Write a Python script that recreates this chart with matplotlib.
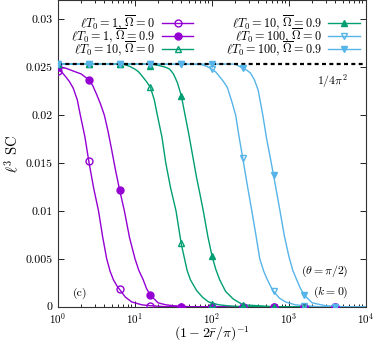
import numpy as np
import matplotlib
matplotlib.use("Agg")
import matplotlib.pyplot as plt
from matplotlib.ticker import LogLocator, NullFormatter

plt.rcParams['font.family'] = 'serif'
plt.rcParams['font.serif'] = ['cmr10', 'DejaVu Serif']
plt.rcParams['mathtext.fontset'] = 'cm'
plt.rcParams['axes.formatter.use_mathtext'] = True

# marker positions (same for every series)
mark_x = [1, 2.512, 6.31, 15.85, 39.81, 100, 251.2, 631, 1585, 3981]

plateau = 1 / (4 * np.pi**2)

# marker values
m_T1_O0 = [0.0246, 0.0152, 0.0018, 0.0001, 0, 0, 0, 0, 0, 0]
m_T1_O9 = [0.0250, 0.0237, 0.0122, 0.0012, 0, 0, 0, 0, 0, 0]
m_T10_O0 = [0.02533, 0.02533, 0.02533, 0.0229, 0.0066, 0.0003, 0, 0, 0, 0]
m_T10_O9 = [0.02533, 0.02533, 0.02533, 0.0251, 0.0220, 0.0053, 0.0002, 0, 0, 0]
m_T100_O0 = [0.02533, 0.02533, 0.02533, 0.02533, 0.02533, 0.0248, 0.0155, 0.0016, 0.0001, 0]
m_T100_O9 = [0.02533, 0.02533, 0.02533, 0.02533, 0.02533, 0.02533, 0.0249, 0.0137, 0.0012, 0]

# curve samples
l_T1_O0_x = [1, 1.12, 1.26, 1.41, 1.58, 1.78, 1.95, 2.24, 2.51, 2.9, 3.36, 3.8, 4.29,
             4.75, 5.25, 5.8, 6.31, 7.5, 9.06, 12.2, 15.85, 25, 10000]
l_T1_O0_y = [0.0247, 0.0245, 0.0240, 0.0235, 0.0228, 0.0216, 0.0200, 0.0177, 0.0152,
             0.0124, 0.0100, 0.0073, 0.0050, 0.0037, 0.0028, 0.0022, 0.0018, 0.0010,
             0.0005, 0.0002, 0.0001, 0, 0]

l_T1_O9_x = [1, 1.26, 1.58, 2.0, 2.51, 2.82, 3.16, 3.55, 4.0, 4.47, 5.0, 5.6, 6.31, 7.28,
             8.5, 10, 11.2, 12.8, 14.1, 15.85, 20, 25, 31.6, 50, 10000]
l_T1_O9_y = [0.0250, 0.0249, 0.0246, 0.0243, 0.0237, 0.0231, 0.0222, 0.0212, 0.0200,
             0.0183, 0.0163, 0.0142, 0.0122, 0.0100, 0.0072, 0.0050, 0.0038, 0.0028,
             0.0019, 0.0012, 0.0004, 0.0002, 0.0001, 0, 0]

l_T10_O0_x = [1, 7.1, 8.5, 10, 11.2, 12.6, 14.1, 15.85, 17.8, 19.5, 22.4, 25.1, 29, 34.1,
              39.8, 44, 47.5, 52.5, 58, 63, 75, 90, 122, 158, 250, 10000]
l_T10_O0_y = [0.02533, 0.0253, 0.0251, 0.0248, 0.0245, 0.0240, 0.0235, 0.0229, 0.0216,
              0.0200, 0.0177, 0.0150, 0.0124, 0.0100, 0.0066, 0.0050, 0.0038, 0.0028,
              0.0022, 0.0017, 0.0010, 0.0005, 0.0002, 0.0001, 0, 0]

l_T10_O9_x = [1, 15.85, 20, 25, 28.2, 31.6, 35.5, 40, 44.7, 50, 56, 63, 70, 77.1, 88, 100,
              112, 126, 150, 189, 251, 400, 630, 10000]
l_T10_O9_y = [0.02533, 0.02533, 0.0252, 0.0250, 0.0248, 0.0243, 0.0234, 0.0220, 0.0200,
              0.0180, 0.0158, 0.0135, 0.0117, 0.0100, 0.0074, 0.0053, 0.0039, 0.0028,
              0.0016, 0.0008, 0.0002, 0.0001, 0, 0]

l_T100_O0_x = [1, 71, 85, 100, 112, 126, 141, 158, 178, 203, 224, 251, 290, 329, 375, 417,
               470, 525, 580, 631, 750, 900, 1200, 1585, 2500, 10000]
l_T100_O0_y = [0.02533, 0.0253, 0.0251, 0.0248, 0.0245, 0.0240, 0.0235, 0.0229, 0.0216,
               0.0200, 0.0178, 0.0155, 0.0125, 0.0100, 0.0073, 0.0050, 0.0037, 0.0028,
               0.0021, 0.0016, 0.0009, 0.0005, 0.0002, 0.0001, 0, 0]

l_T100_O9_x = [1, 200, 251, 282, 316, 355, 398, 457, 513, 570, 631, 700, 764, 870, 1000,
               1120, 1260, 1410, 1585, 2000, 3000, 5000, 10000]
l_T100_O9_y = [0.02533, 0.02533, 0.0249, 0.0247, 0.0244, 0.0237, 0.0226, 0.0200, 0.0175,
               0.0156, 0.0137, 0.0117, 0.0100, 0.0074, 0.0052, 0.0038, 0.0028, 0.0019,
               0.0012, 0.0004, 0.0001, 0, 0]

labels = [r'$\ell T_0 = 1,\, \overline{\Omega} = 0$',
          r'$\ell T_0 = 1,\, \overline{\Omega} = 0.9$',
          r'$\ell T_0 = 10,\, \overline{\Omega} = 0$',
          r'$\ell T_0 = 10,\, \overline{\Omega} = 0.9$',
          r'$\ell T_0 = 100,\, \overline{\Omega} = 0$',
          r'$\ell T_0 = 100,\, \overline{\Omega} = 0.9$']

y_ticks = [0, 0.005, 0.01, 0.015, 0.02, 0.025, 0.03]
y_tick_labels = ['0', '0.005', '0.01', '0.015', '0.02', '0.025', '0.03']

purple = '#9400D3'
green = '#009E73'
blue = '#56B4E9'

series = [
    (l_T1_O0_x, l_T1_O0_y, m_T1_O0, purple, 'o', True),
    (l_T1_O9_x, l_T1_O9_y, m_T1_O9, purple, 'o', False),
    (l_T10_O0_x, l_T10_O0_y, m_T10_O0, green, '^', True),
    (l_T10_O9_x, l_T10_O9_y, m_T10_O9, green, '^', False),
    (l_T100_O0_x, l_T100_O0_y, m_T100_O0, blue, 'v', True),
    (l_T100_O9_x, l_T100_O9_y, m_T100_O9, blue, 'v', False),
]

fig = plt.figure(figsize=(3.74, 3.44), dpi=100)
ax = fig.add_axes([58 / 374, 37.3 / 344, 308 / 374, 306.5 / 344])

# dashed 1/4pi^2 line sits above the curves but under the points
ax.axhline(plateau, color='black', lw=1.6, ls=(0, (1.8, 1.5)), zorder=2.5)

for lx, ly, my, col, mk, hollow in series:
    ax.plot(lx, ly, color=col, lw=1.0, zorder=2)
    ax.plot(mark_x, my, ls='none', marker=mk, ms=5,
            mfc='none' if hollow else col, mec=col, mew=1.0, zorder=3)

# key drawn gnuplot-style: text right-justified, sample to its right
key_text_right = [0.315, 0.857]
key_line = [(0.338, 0.438), (0.876, 0.981)]
key_rows = [0.925, 0.883, 0.84]
for i, ((lx, ly, my, col, mk, hollow), lab) in enumerate(zip(series, labels)):
    c, r = divmod(i, 3)
    ax.text(key_text_right[c], key_rows[r], lab, transform=ax.transAxes,
            ha='right', va='center', fontsize=8.8)
    x0, x1 = key_line[c]
    ax.plot([x0, x1], [key_rows[r]] * 2, color=col, lw=1.0,
            transform=ax.transAxes, clip_on=False)
    ax.plot([(x0 + x1) / 2], [key_rows[r]], marker=mk, ms=5, color=col,
            mfc='none' if hollow else col, mec=col, mew=1.0,
            transform=ax.transAxes, clip_on=False)

ax.set_xscale('log')
ax.set_xlim(1, 1e4)
ax.set_ylim(0, 0.032)
ax.set_yticks(y_ticks)
ax.set_yticklabels(y_tick_labels)
ax.xaxis.set_minor_locator(LogLocator(base=10, subs=np.arange(2, 10)))
ax.xaxis.set_minor_formatter(NullFormatter())
ax.tick_params(which='both', direction='in', top=True, right=True)
ax.tick_params(axis='x', pad=3, labelsize=8)
ax.tick_params(axis='y', pad=4, labelsize=8.5)
ax.tick_params(which='major', length=4, width=0.6)
ax.tick_params(which='minor', length=2, width=0.6)
for s in ax.spines.values():
    s.set_linewidth(0.8)
    s.set_color('#333333')

ax.set_ylabel(r'$\ell^3$ SC', fontsize=10.5, labelpad=3)
ax.set_xlabel(r'$(1-2\bar{r}/\pi)^{-1}$', fontsize=10, labelpad=-1)

ax.text(2300, 0.0236, r'$1/4\pi^2$', fontsize=8.5, ha='left', va='center')
ax.text(6000, 0.0037, r'$(\theta = \pi/2)$', fontsize=8.5, ha='right', va='center')
ax.text(6000, 0.0015, r'$(k = 0)$', fontsize=8.5, ha='right', va='center')
ax.text(1.96, 0.0014, '(c)', fontsize=8.5, ha='center', va='center')

fig.savefig('out.png', dpi=100)
